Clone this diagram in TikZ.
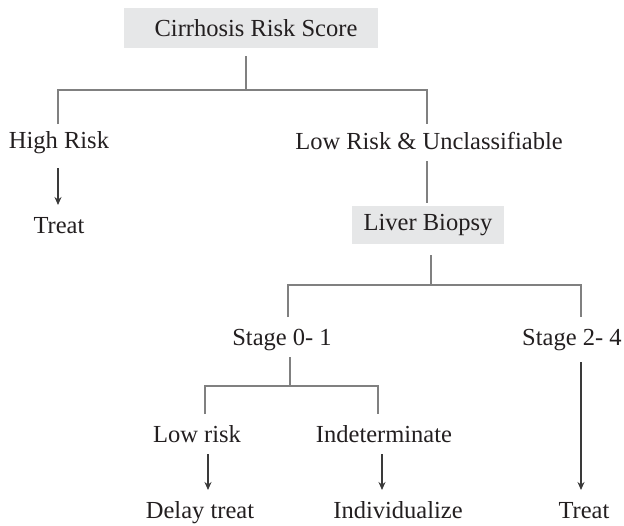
\documentclass[tikz,border=0pt]{standalone}
\usepackage{fontspec}
\setmainfont{Liberation Serif}
\usetikzlibrary{arrows.meta}
\definecolor{boxfill}{HTML}{E6E7E8}
\definecolor{connc}{HTML}{808080}
\definecolor{arrc}{HTML}{3A3A3A}
\definecolor{txtc}{HTML}{231F20}
\begin{document}
\begin{tikzpicture}[x=1pt,y=-1pt,
  every node/.style={font=\fontsize{24.5}{28}\selectfont, text=txtc, inner sep=0pt},
  lbl/.style={anchor=base},
  graybox/.style={fill=boxfill, draw=none},
  conn/.style={draw=connc, line width=2pt},
  arr/.style={draw=arrc, line width=1.6pt, -{Stealth[length=8pt,width=7pt]}}]
\useasboundingbox (0,0) rectangle (624,525);
% boxes
\node[graybox, minimum width=254pt, minimum height=40pt] (crs) at (251,28) {\hspace*{10pt}Cirrhosis Risk Score};
\node[graybox, minimum width=152pt, minimum height=38pt] (lb) at (428,225) {Liver Biopsy};
% labels
\node[lbl] (hr) at (59,148) {High Risk};
\node[lbl] (t1) at (59,233) {Treat};
\node[lbl] (lr) at (429,149) {Low Risk \& Unclassifiable};
\node[lbl] (s01) at (282,345) {Stage 0- 1};
\node[lbl, anchor=base west] (s24) at (522,345) {Stage 2- 4};
\node[lbl] (low) at (197,442) {Low risk};
\node[lbl] (ind) at (384,442) {Indeterminate};
\node[lbl] (dt) at (200,518) {Delay treat};
\node[lbl] (iv) at (398,518) {Individualize};
\node[lbl] (t2) at (584,518) {Treat};
% connector coordinates
\coordinate (c0) at (246,56);
\coordinate (j1) at (246,90);
\coordinate (hrT) at (58,124);
\coordinate (lrT) at (427,124);
\coordinate (lrB) at (427,161);
\coordinate (lbT) at (427,203);
\coordinate (lbB) at (431,255);
\coordinate (j2) at (431,285);
\coordinate (s01T) at (288,317);
\coordinate (s24T) at (581,317);
\coordinate (s01B) at (290,357);
\coordinate (j3) at (290,386);
\coordinate (lowT) at (205,414);
\coordinate (indT) at (378,414);
\coordinate (hrB) at (58,168);
\coordinate (t1T) at (58,205);
\coordinate (lowB) at (208,454);
\coordinate (dtT) at (208,490);
\coordinate (indB) at (382,454);
\coordinate (ivT) at (382,490);
\coordinate (s24B) at (581,362);
\coordinate (t2T) at (581,490);
% connectors
\draw[conn] (c0) -- (j1);
\draw[conn] (hrT) |- (j1) -| (lrT);
\draw[conn] (lrB) -- (lbT);
\draw[conn] (lbB) -- (j2);
\draw[conn] (s01T) |- (j2) -| (s24T);
\draw[conn] (s01B) -- (j3);
\draw[conn] (lowT) |- (j3) -| (indT);
\draw[arr] (hrB) -- (t1T);
\draw[arr] (lowB) -- (dtT);
\draw[arr] (indB) -- (ivT);
\draw[arr] (s24B) -- (t2T);
\end{tikzpicture}
\end{document}
